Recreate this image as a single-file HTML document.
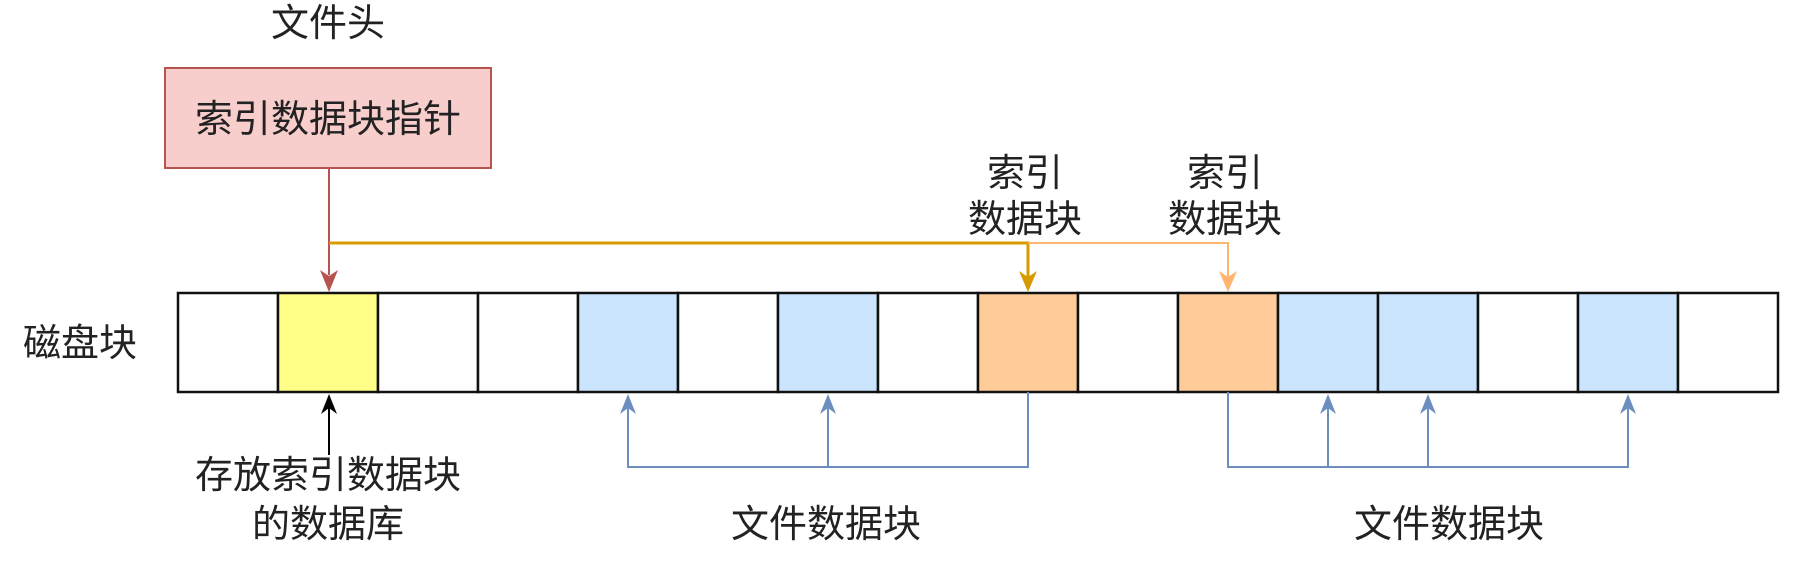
<!DOCTYPE html>
<html><head><meta charset="utf-8"><style>
body{margin:0;background:#fff;}
svg text{font-family:"Liberation Sans","Noto Sans CJK SC",sans-serif;font-size:38px;fill:#222;}
</style></head><body>
<svg width="1809" height="575" xmlns="http://www.w3.org/2000/svg">
<defs>
<marker id="ar" markerWidth="10" markerHeight="10" refX="5" refY="9" orient="auto-start-reverse" markerUnits="userSpaceOnUse" viewBox="0 0 10 10"><path d="M0,0 L5,10 L10,0 L5,3 Z" fill="#b85450"/></marker>
</defs>
<text x="328" y="36" text-anchor="middle">文件头</text>
<rect x="165" y="68" width="326" height="100" fill="#f8cecc" stroke="#b85450" stroke-width="2"/>
<text x="328" y="132" text-anchor="middle">索引数据块指针</text>
<!-- cells -->
<g stroke="#111" stroke-width="2.5">
<rect x="178" y="293" width="100" height="99" fill="#fff"/>
<rect x="278" y="293" width="100" height="99" fill="#ffff88"/>
<rect x="378" y="293" width="100" height="99" fill="#fff"/>
<rect x="478" y="293" width="100" height="99" fill="#fff"/>
<rect x="578" y="293" width="100" height="99" fill="#cce5ff"/>
<rect x="678" y="293" width="100" height="99" fill="#fff"/>
<rect x="778" y="293" width="100" height="99" fill="#cce5ff"/>
<rect x="878" y="293" width="100" height="99" fill="#fff"/>
<rect x="978" y="293" width="100" height="99" fill="#ffcc99"/>
<rect x="1078" y="293" width="100" height="99" fill="#fff"/>
<rect x="1178" y="293" width="100" height="99" fill="#ffcc99"/>
<rect x="1278" y="293" width="100" height="99" fill="#cce5ff"/>
<rect x="1378" y="293" width="100" height="99" fill="#cce5ff"/>
<rect x="1478" y="293" width="100" height="99" fill="#fff"/>
<rect x="1578" y="293" width="100" height="99" fill="#cce5ff"/>
<rect x="1678" y="293" width="100" height="99" fill="#fff"/>
</g>
<text x="80" y="356" text-anchor="middle">磁盘块</text>
<!-- red arrow -->
<line x1="329" y1="168" x2="329" y2="275" stroke="#b85450" stroke-width="2"/>
<path d="M320,270 L329,292 L338,270 L329,276 Z" fill="#b85450"/>
<!-- orange lines -->
<polyline points="329,243 1028,243 1028,278" fill="none" stroke="#d79b00" stroke-width="3"/>
<path d="M1019,271 L1028,292 L1037,271 L1028,277 Z" fill="#d79b00"/>
<polyline points="1028,243 1228,243 1228,278" fill="none" stroke="#ffb570" stroke-width="2"/>
<path d="M1219,271 L1228,292 L1237,271 L1228,277 Z" fill="#ffb570"/>
<text x="1025" y="186" text-anchor="middle">索引</text>
<text x="1025" y="232" text-anchor="middle">数据块</text>
<text x="1225" y="186" text-anchor="middle">索引</text>
<text x="1225" y="232" text-anchor="middle">数据块</text>
<!-- black arrow -->
<line x1="329" y1="455" x2="329" y2="405" stroke="#000" stroke-width="2"/>
<path d="M321,414 L329,394 L337,414 L329,408 Z" fill="#000"/>
<text x="328" y="488" text-anchor="middle">存放索引数据块</text>
<text x="328" y="537" text-anchor="middle">的数据库</text>
<!-- blue connectors -->
<g stroke="#6c8ebf" stroke-width="2" fill="none">
<polyline points="1028,392 1028,467 628,467 628,408"/>
<line x1="828" y1="467" x2="828" y2="408"/>
<polyline points="1228,392 1228,467 1628,467 1628,408"/>
<line x1="1328" y1="467" x2="1328" y2="408"/>
<line x1="1428" y1="467" x2="1428" y2="408"/>
</g>
<g fill="#6c8ebf">
<path d="M620,414 L628,394 L636,414 L628,408 Z"/>
<path d="M820,414 L828,394 L836,414 L828,408 Z"/>
<path d="M1320,414 L1328,394 L1336,414 L1328,408 Z"/>
<path d="M1420,414 L1428,394 L1436,414 L1428,408 Z"/>
<path d="M1620,414 L1628,394 L1636,414 L1628,408 Z"/>
</g>
<text x="826" y="537" text-anchor="middle">文件数据块</text>
<text x="1449" y="537" text-anchor="middle">文件数据块</text>
</svg>
</body></html>
